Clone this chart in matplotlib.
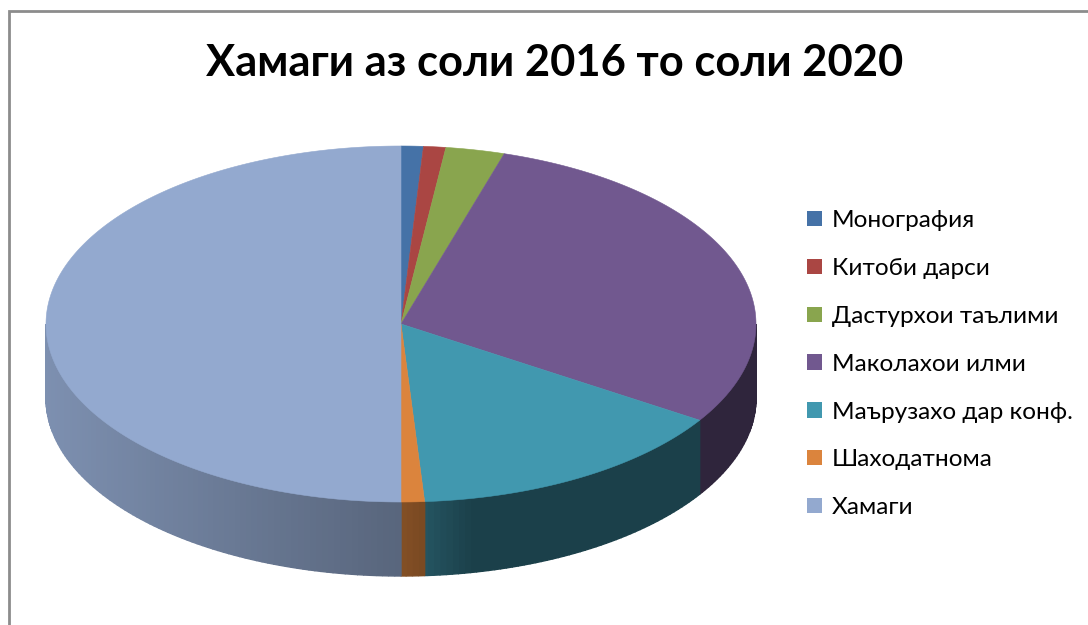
import matplotlib
matplotlib.use("Agg")
import matplotlib.pyplot as plt
from matplotlib.patches import Patch, Polygon
import numpy as np

# values, the last slice is half of the pie
labels = ["Монография", "Китоби дарси", "Дастурхои таълими", "Маколахои илми",
          "Маърузахо дар конф.", "Шаходатнома", "Хамаги"]
values = [2.0, 2.0, 5.3, 58.2, 29.4, 2.1, 99.0]
colors = ["#4572A7", "#AA4643", "#89A54E", "#71588F", "#4198AF", "#DB843D", "#93A9CF"]
title = "Хамаги аз соли 2016 то соли 2020"

# pie geometry in pixels of the picture
cx, cy = 401, 324
rx, ry = 355, 178
depth = 74


def rim(theta):
    # theta in degrees, clockwise from the top of the pie
    t = np.radians(theta)
    return cx + rx * np.sin(t), cy - ry * np.cos(t)


def wall_shade(x):
    # darker towards the front and the right hand side
    return np.interp(x, [-1, 0, 0.07, 0.2, 1], [0.85, 0.6, 0.55, 0.42, 0.42])


fig = plt.figure(figsize=(10.88, 6.25), dpi=100)
ax = fig.add_axes([0, 0, 1, 1])
ax.set_xlim(0, 1088)
ax.set_ylim(625, 0)
ax.axis("off")

# chart border, it runs off the picture on the right and at the bottom
ax.plot([9, 9, 1100], [640, 11, 11], color="#8c8c8c", lw=2, solid_joinstyle="miter")

edges = np.cumsum([0] + values) / sum(values) * 360

# side wall, cut into thin strips so the shading can change along it
for start, end, color in zip(edges[:-1], edges[1:], colors):
    lo, hi = max(start, 90), min(end, 270)
    if lo >= hi:
        continue
    steps = np.append(np.arange(lo, hi, 1.0), hi)
    base = np.array(matplotlib.colors.to_rgb(color))
    for a, b in zip(steps[:-1], steps[1:]):
        xa, ya = rim(a)
        xb, yb = rim(b)
        c = base * wall_shade(((xa + xb) / 2 - cx) / rx)
        ax.add_patch(Polygon([(xa, ya), (xb, yb), (xb, yb + depth), (xa, ya + depth)],
                             facecolor=c, edgecolor=c, lw=1.0))

# top face
for start, end, color in zip(edges[:-1], edges[1:], colors):
    thetas = np.linspace(start, end, max(int(end - start) * 2, 4))
    xs, ys = rim(thetas)
    pts = np.column_stack([np.r_[cx, xs], np.r_[cy, ys]])
    ax.add_patch(Polygon(pts, facecolor=color, edgecolor=color, lw=0.4))

ax.text(555, 63, title, ha="center", va="center", fontsize=31.3, fontweight="bold",
        family=["Lato", "Open Sans"], color="black")

handles = [Patch(facecolor=c, edgecolor="none") for c in colors]
ax.legend(handles, labels, loc="upper left", bbox_to_anchor=(807, 210),
          bbox_transform=ax.transData, frameon=False, ncol=1,
          handlelength=0.61, handleheight=0.58, handletextpad=0.41, labelspacing=1.10,
          borderpad=0, borderaxespad=0, prop={"family": ["Lato", "Open Sans"], "size": 17.6})

fig.savefig("out.png", dpi=100)
